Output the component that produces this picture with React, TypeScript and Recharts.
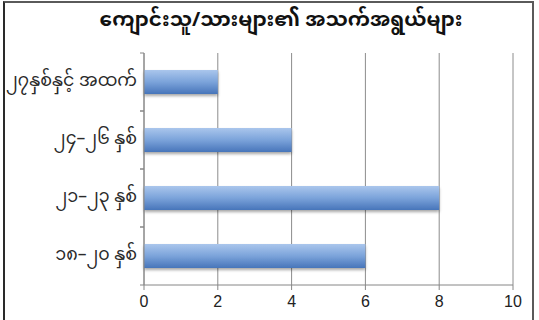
import React from "react";
import { BarChart, Bar, XAxis, YAxis, CartesianGrid } from "recharts";

const title = "ကျောင်းသူ/သားများ၏ အသက်အရွယ်များ";
const ageGroups = ["၂၇နှစ်နှင့် အထက်", "၂၄–၂၆ နှစ်", "၂၁–၂၃ နှစ်", "၁၈–၂၀ နှစ်"];
const counts = [2, 4, 8, 6];
const xTicks = [0, 2, 4, 6, 8, 10];

const data = ageGroups.map((age, i) => ({ age, count: counts[i] }));

const FONT = "'Noto Sans Myanmar', 'Noto Sans', Padauk, 'DejaVu Sans', sans-serif";
const AXIS = "#868686";

const YTick = (props: any) => {
  const { x, y, payload } = props;
  const off = payload && payload.offset ? payload.offset : 0;
  const ax = x + 7;
  return (
    <g>
      <text x={x} y={y} textAnchor="end" dominantBaseline="central" fontSize={17.5} fill="#2a2a2a" fontFamily={FONT}>
        {payload.value}
      </text>
      {off ? (
        <>
          <line x1={ax - 4} x2={ax} y1={y - off} y2={y - off} stroke={AXIS} />
          <line x1={ax - 4} x2={ax} y1={y + off} y2={y + off} stroke={AXIS} />
        </>
      ) : null}
    </g>
  );
};

export default function App() {
  return (
    <div style={{ position: "absolute", left: 0, top: 0, width: 539, height: 320, background: "#fff", overflow: "hidden" }}>
      <div
        style={{
          position: "absolute",
          left: 3,
          top: 1,
          width: 527,
          height: 330,
          borderTop: "2px solid #5a5a5a",
          borderLeft: "2px solid #2a2a2a",
          borderRight: "2px solid #5a5a5a",
        }}
      />
      <div style={{ position: "absolute", left: 0, top: 0 }}>
        <BarChart
          width={539}
          height={320}
          data={data}
          layout="vertical"
          margin={{ top: 53, right: 26, bottom: 0, left: 0 }}
          barSize={24}
        >
          <defs>
            <linearGradient id="barGrad" x1="0" y1="0" x2="0" y2="1">
              <stop offset="0%" stopColor="#aac6ec" />
              <stop offset="50%" stopColor="#7ba3da" />
              <stop offset="100%" stopColor="#4775ba" />
            </linearGradient>
            <filter id="barShadow" x="-5%" y="-30%" width="110%" height="180%">
              <feDropShadow dx="0" dy="2" stdDeviation="1.5" floodColor="#000" floodOpacity="0.35" />
            </filter>
          </defs>
          <text
            x={281}
            y={21}
            textAnchor="middle"
            dominantBaseline="central"
            fontFamily={FONT}
            fontWeight="bold"
            fontSize={20}
            fill="#111"
          >
            {title}
          </text>
          <CartesianGrid horizontal={false} vertical={true} stroke="#8c8c8c" />
          <XAxis
            type="number"
            domain={[0, 10]}
            ticks={xTicks}
            height={35}
            stroke={AXIS}
            tickSize={5}
            tickMargin={6}
            tick={{ fill: "#222", fontSize: 16, fontFamily: "'Liberation Sans', Arial, sans-serif" }}
          />
          <YAxis
            type="category"
            dataKey="age"
            width={144}
            stroke={AXIS}
            tickLine={false}
            tickSize={0}
            tickMargin={7}
            tick={<YTick />}
          />
          <Bar dataKey="count" fill="url(#barGrad)" filter="url(#barShadow)" isAnimationActive={false} />
        </BarChart>
      </div>
    </div>
  );
}
